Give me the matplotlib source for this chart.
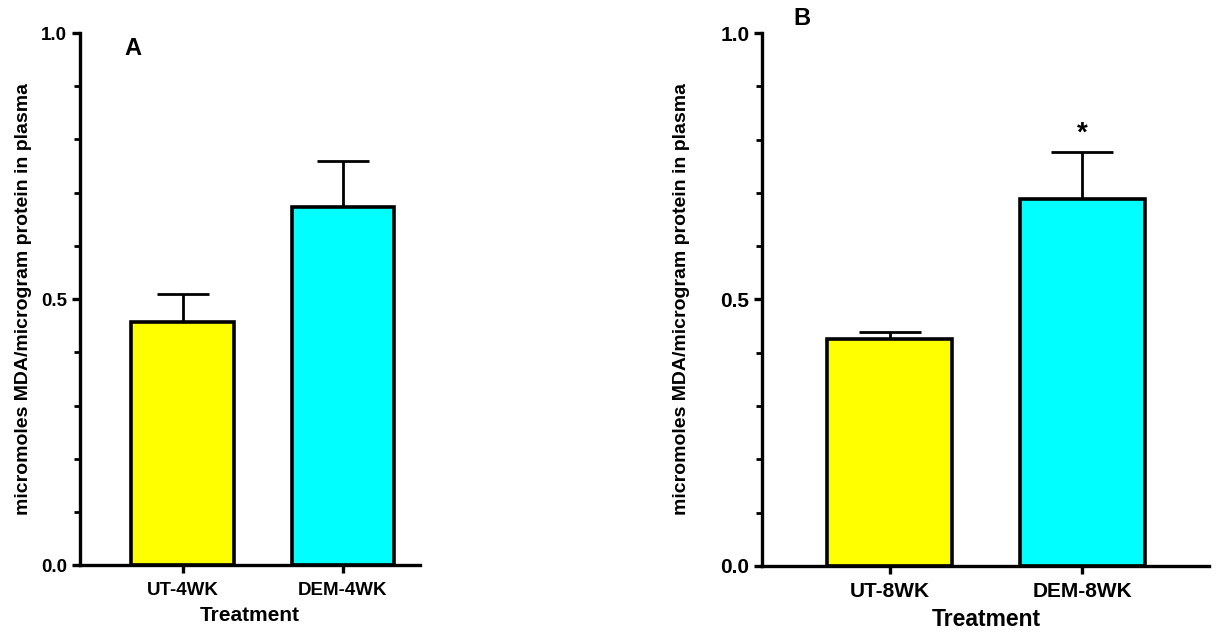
import matplotlib
matplotlib.use("Agg")
import matplotlib.pyplot as plt
from matplotlib.ticker import MultipleLocator

plt.rcParams['font.family'] = ['Liberation Sans', 'DejaVu Sans']

# --- data ---
labels_a = ['UT-4WK', 'DEM-4WK']
means_a = [0.457, 0.673]
errs_a = [0.052, 0.086]

labels_b = ['UT-8WK', 'DEM-8WK']
means_b = [0.426, 0.689]
errs_b = [0.013, 0.088]

colors = ['#ffff00', '#00ffff']
ylab = 'micromoles MDA/microgram protein in plasma'

fig = plt.figure(figsize=(12.18, 6.35), dpi=100)
ax_a = fig.add_axes([0.0657, 0.110, 0.279, 0.838])
ax_b = fig.add_axes([0.626, 0.109, 0.367, 0.839])


def panel(ax, labels, means, errs, xlim, width, cap, fs, letter, lx, ly, ylx, star=False):
    x = list(range(len(labels)))
    ax.bar(x, means, width=width, color=colors, edgecolor='black', linewidth=2.6, zorder=2)
    ax.errorbar(x, means, yerr=[[0] * len(errs), errs], fmt='none', ecolor='black',
                elinewidth=2, capsize=cap, capthick=2, zorder=1)
    ax.set_xlim(*xlim)
    ax.set_ylim(0, 1.0)
    ax.set_yticks([0.0, 0.5, 1.0])
    ax.set_yticklabels(['0.0', '0.5', '1.0'], fontweight='bold', fontsize=fs)
    ax.yaxis.set_minor_locator(MultipleLocator(0.1))
    ax.set_xticks(x)
    ax.set_xticklabels(labels, fontweight='bold', fontsize=fs)
    ax.spines['top'].set_visible(False)
    ax.spines['right'].set_visible(False)
    for s in ['left', 'bottom']:
        ax.spines[s].set_linewidth(2.4)
    ax.tick_params(axis='both', which='major', width=2.4, length=6)
    ax.tick_params(axis='x', which='major', pad=6)
    ax.tick_params(axis='y', which='minor', width=2, length=4)
    ax.set_ylabel(ylab, fontweight='bold', fontsize=14)
    ax.yaxis.set_label_coords(ylx, 0.5)
    ax.set_xlabel('Treatment', fontweight='bold', fontsize=fs + 1.5, labelpad=5)
    ax.text(lx, ly, letter, transform=ax.transAxes, fontweight='bold', fontsize=17,
            ha='left', va='center')
    if star:
        ax.text(x[1], means[1] + errs[1] + 0.035, '*', ha='center', va='center',
                fontweight='bold', fontsize=20)


panel(ax_a, labels_a, means_a, errs_a, (-0.64, 1.48), 0.64, 19, 13.5, 'A', 0.13, 0.97, -0.141)
panel(ax_b, labels_b, means_b, errs_b, (-0.66, 1.66), 0.65, 22, 15, 'B', 0.07, 1.027, -0.163, star=True)

fig.savefig('out.png', dpi=100)
